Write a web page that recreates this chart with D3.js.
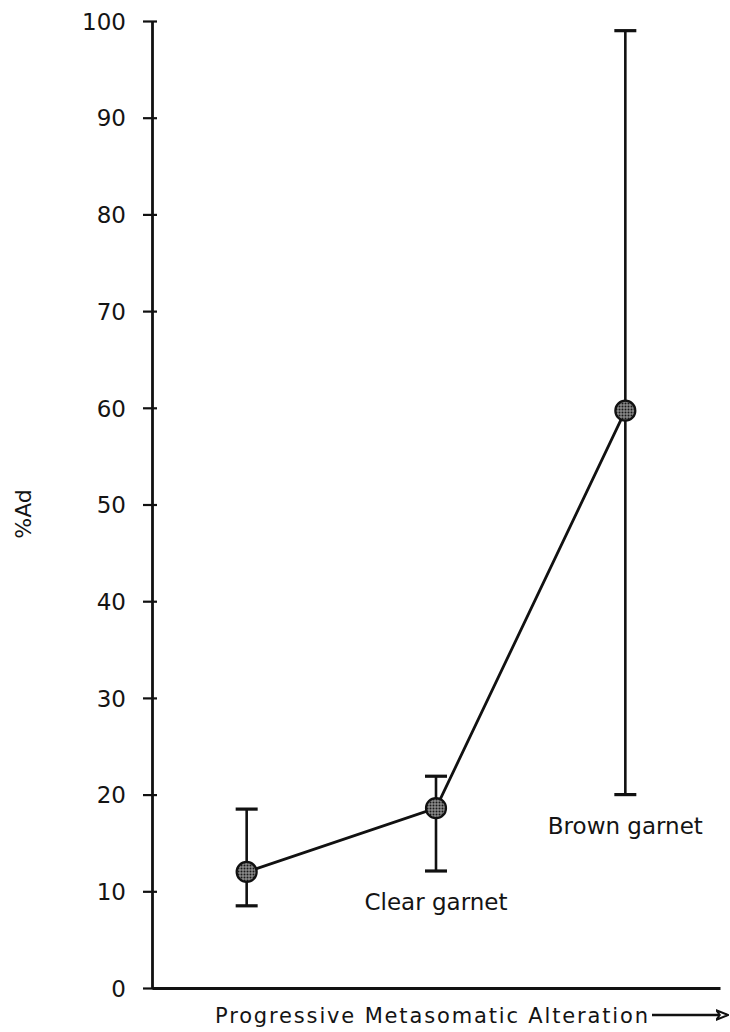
<!DOCTYPE html>
<html>
<head>
<meta charset="utf-8">
<script src="https://cdn.jsdelivr.net/npm/d3@7"></script>
<style>
  body { margin: 0; background: #fff; }
  svg { display: block; }
  text { font-family: "DejaVu Sans", sans-serif; fill: #141414; }
</style>
</head>
<body>
<div class="container"></div>
<script>
const WIDTH = 730;
const HEIGHT = 1032;

// data
const stageLabels = ["", "Clear garnet", "Brown garnet"];
const meanAd = [12.0, 18.6, 59.7];
const maxAd = [18.5, 21.9, 99.0];
const minAd = [8.5, 12.1, 20.0];
const yTicks = [0, 10, 20, 30, 40, 50, 60, 70, 80, 90, 100];
const yTitle = "%Ad";
const xTitle = "Progressive Metasomatic Alteration";

var translate = function(x, y){
  return "translate(" + x + "," + y + ")";
};

var prepare = function(){
  var rows = [];
  for (var i = 0; i < stageLabels.length; i++) {
    rows.push({label: stageLabels[i], mean: meanAd[i], hi: maxAd[i], lo: minAd[i]});
  }
  return rows;
};

var svg = d3.select('.container').append('svg')
  .attr('width', WIDTH)
  .attr('height', HEIGHT);

var defs = svg.append('defs');

// stipple fill for the markers
var pat = defs.append('pattern')
  .attr('id', 'stipple')
  .attr('width', 3).attr('height', 3)
  .attr('patternUnits', 'userSpaceOnUse');
pat.append('rect').attr('width', 3).attr('height', 3).attr('fill', '#8a8a8a');
pat.append('circle').attr('cx', 1.5).attr('cy', 1.5).attr('r', 1).attr('fill', '#1a1a1a');

var x = d3.scalePoint()
  .domain(stageLabels)
  .range([152, 720])
  .padding(0.5);

var y = d3.scaleLinear()
  .domain([0, 100])
  .range([988, 21]);

// y axis, ticks cross the line
var yAxis = d3.axisLeft(y)
  .tickValues(yTicks)
  .tickSize(9)
  .tickSizeOuter(0)
  .tickPadding(17);

var gy = svg.append('g')
  .attr('transform', translate(152, 0))
  .call(yAxis);
gy.select('.domain').attr('stroke', '#111').attr('stroke-width', 2.8);
gy.selectAll('.tick line').attr('x1', 5).attr('stroke', '#111').attr('stroke-width', 2.2);
gy.selectAll('.tick text')
  .style('font-size', '23px')
  .attr('fill', '#141414')
  .attr('dy', '0.36em');

// x axis: plain line, no ticks
var xAxis = d3.axisBottom(x).tickValues([]).tickSizeOuter(0);
var gx = svg.append('g')
  .attr('transform', translate(0, 988))
  .call(xAxis);
gx.select('.domain').attr('stroke', '#111').attr('stroke-width', 2.8);

// titles
svg.append('text')
  .attr('transform', translate(31, 514) + ' rotate(-90)')
  .attr('text-anchor', 'middle')
  .style('font-size', '22px')
  .text(yTitle);

svg.append('text')
  .attr('x', 215)
  .attr('y', 1023)
  .attr('textLength', 433)
  .attr('lengthAdjust', 'spacing')
  .style('font-size', '21px')
  .text(xTitle);

// arrow after the x title
defs.append('marker')
  .attr('id', 'head')
  .attr('viewBox', '0 0 10 10')
  .attr('refX', 9).attr('refY', 5)
  .attr('markerWidth', 13).attr('markerHeight', 12)
  .attr('markerUnits', 'userSpaceOnUse')
  .attr('orient', 'auto')
  .append('path')
  .attr('d', 'M0,1 L10,5 L0,9 L3,5 Z')
  .attr('fill', '#fff').attr('stroke', '#111').attr('stroke-width', 1.6);

svg.append('line')
  .attr('x1', 652).attr('x2', 727)
  .attr('y1', 1015).attr('y2', 1015)
  .attr('stroke', '#111').attr('stroke-width', 2.4)
  .attr('marker-end', 'url(#head)');

var data = prepare();

// error bars
var bars = svg.append('g').attr('class', 'errorbars');
bars.selectAll('line.stem').data(data).enter().append('line')
  .attr('class', 'stem')
  .attr('x1', function(d){ return x(d.label); })
  .attr('x2', function(d){ return x(d.label); })
  .attr('y1', function(d){ return y(d.hi); })
  .attr('y2', function(d){ return y(d.lo); })
  .attr('stroke', '#111').attr('stroke-width', 2.6);

var CAP = 11;
bars.selectAll('line.cap-hi').data(data).enter().append('line')
  .attr('class', 'cap-hi')
  .attr('x1', function(d){ return x(d.label) - CAP; })
  .attr('x2', function(d){ return x(d.label) + CAP; })
  .attr('y1', function(d){ return y(d.hi); })
  .attr('y2', function(d){ return y(d.hi); })
  .attr('stroke', '#111').attr('stroke-width', 3.2);

bars.selectAll('line.cap-lo').data(data).enter().append('line')
  .attr('class', 'cap-lo')
  .attr('x1', function(d){ return x(d.label) - CAP; })
  .attr('x2', function(d){ return x(d.label) + CAP; })
  .attr('y1', function(d){ return y(d.lo); })
  .attr('y2', function(d){ return y(d.lo); })
  .attr('stroke', '#111').attr('stroke-width', 3.2);

// mean line
var line = d3.line()
  .x(function(d){ return x(d.label); })
  .y(function(d){ return y(d.mean); });

svg.append('path')
  .datum(data)
  .attr('d', line)
  .attr('fill', 'none')
  .attr('stroke', '#111')
  .attr('stroke-width', 2.8);

// markers
svg.selectAll('circle.pt').data(data).enter().append('circle')
  .attr('class', 'pt')
  .attr('cx', function(d){ return x(d.label); })
  .attr('cy', function(d){ return y(d.mean); })
  .attr('r', 10)
  .attr('fill', 'url(#stipple)')
  .attr('stroke', '#111')
  .attr('stroke-width', 2.2);

// stage labels under the lower caps
svg.selectAll('text.stage').data(data.filter(function(d){ return d.label; })).enter().append('text')
  .attr('class', 'stage')
  .attr('x', function(d){ return x(d.label); })
  .attr('y', function(d){ return y(d.lo) + 39; })
  .attr('text-anchor', 'middle')
  .style('font-size', '23px')
  .text(function(d){ return d.label; });
</script>
</body>
</html>
